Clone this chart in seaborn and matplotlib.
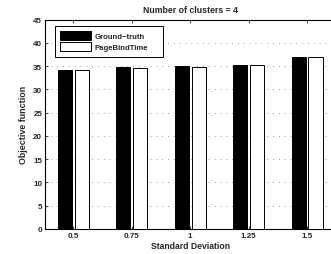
import pandas as pd
import matplotlib
matplotlib.use("Agg")
import matplotlib.pyplot as plt
import seaborn as sns

# values
std_devs = ["0.5", "0.75", "1", "1.25", "1.5"]
ground_truth = [34.1, 34.8, 35.0, 35.3, 36.9]
page_bind_time = [34.1, 34.7, 34.9, 35.3, 36.9]
series_names = ["Ground\u2212truth", "PageBindTime"]

df = pd.DataFrame({
    "Standard Deviation": std_devs * 2,
    "Objective function": ground_truth + page_bind_time,
    "method": [series_names[0]] * len(std_devs) + [series_names[1]] * len(std_devs),
})

sns.set_style("ticks")
plt.rcParams["font.family"] = ["Liberation Sans", "DejaVu Sans"]
plt.rcParams["font.weight"] = "bold"
plt.rcParams["font.size"] = 5.5

fig = plt.figure(figsize=(3.31, 2.55), dpi=100)
ax = fig.add_axes([0.136, 0.099, 0.88, 0.82])

sns.barplot(data=df, x="Standard Deviation", y="Objective function", hue="method",
            palette=["black", "white"], edgecolor="black", linewidth=0.7,
            width=0.58, gap=0.17, ax=ax, zorder=3)

# matlab-like dotted horizontal grid
ax.yaxis.grid(True, linestyle=(0, (1, 5)), color="#999999", linewidth=0.7, zorder=0)
ax.xaxis.grid(False)
ax.set_axisbelow(True)

ax.set_ylim(0, 45)
ax.set_yticks(range(0, 46, 5))
ax.set_xlim(-0.48, 4.5)
ax.tick_params(direction="in", length=2.5, width=0.6, labelsize=5.8, top=True, right=True, pad=2)
for s in ax.spines.values():
    s.set_linewidth(0.8)
    s.set_color("black")

ax.set_title("Number of clusters = 4", fontsize=6.3, fontweight="bold", pad=5.5)
ax.set_xlabel("Standard Deviation", fontsize=6.2, fontweight="bold", labelpad=1.5)
ax.set_ylabel("Objective function", fontsize=6.4, fontweight="bold", labelpad=3.5)

leg = ax.legend(loc="upper left", bbox_to_anchor=(0.034, 0.831, 0.371, 0.138), mode="expand",
                borderaxespad=0, frameon=True, fancybox=False,
                edgecolor="black", framealpha=1, handlelength=4.0, handleheight=1.35,
                borderpad=0.65, labelspacing=0.3, handletextpad=0.5,
                prop={"weight": "bold", "size": 5.6})
leg.get_frame().set_linewidth(0.7)

fig.savefig("out.png", dpi=100)
